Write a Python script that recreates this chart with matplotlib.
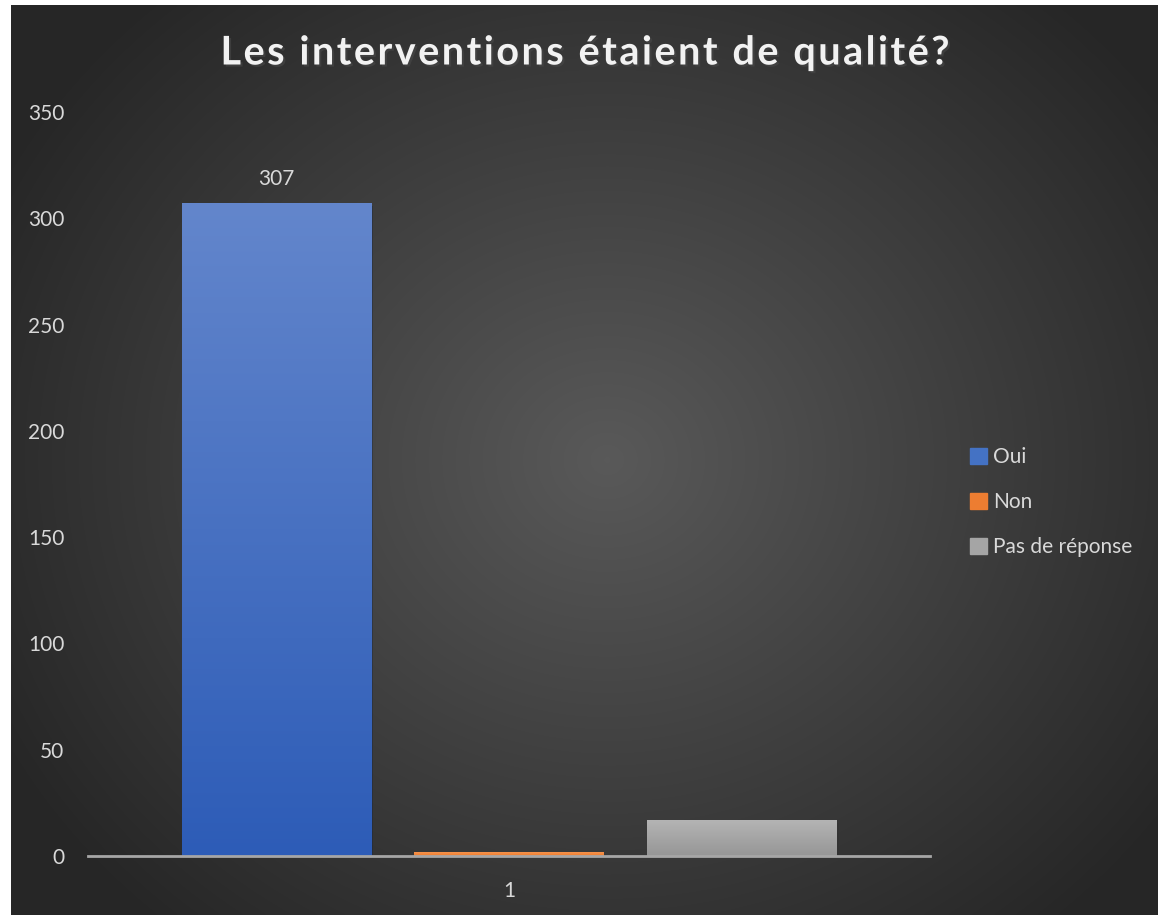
import numpy as np
import matplotlib.pyplot as plt
import matplotlib.patheffects as pe

plt.rcParams['font.family'] = ['Lato', 'DejaVu Sans']

# data
series = ["Oui", "Non", "Pas de réponse"]
values = [307, 2, 17]
category = ["1"]
top_colors = ["#6386cc", "#f79a55", "#b5b5b5"]
bottom_colors = ["#2d5cb7", "#f07b2c", "#969696"]
legend_colors = ["#4472c4", "#ed7d31", "#a5a5a5"]

fig = plt.figure(figsize=(11.58, 9.15), dpi=100)
fig.patch.set_facecolor("white")

# radial gradient background
bg = fig.add_axes([11/1158, 0, 1 - 11/1158, 1 - 5/915])
bg.set_axis_off()
yy, xx = np.mgrid[0:1:400j, 0:1:500j]
r = np.sqrt(((xx - 0.52) / 0.75) ** 2 + ((yy - 0.5) / 0.85) ** 2)
r = np.clip(r / 0.8, 0, 1)
g = 0.35 - (0.35 - 0.15) * r
img = np.dstack([g, g, g])
bg.imshow(img, aspect="auto", extent=[0, 1, 0, 1], interpolation="bicubic")

ax = fig.add_axes([88/1158, 1 - 856/915, 842/1158, (856 - 112)/915])
ax.patch.set_alpha(0)
ax.set_xlim(-0.5, 0.5)
ax.set_ylim(0, 350)

w = 0.2245
offs = [-0.2767, 0, 0.2767]
for i in range(3):
    b = ax.bar(offs[i], values[i], width=w, color=legend_colors[i], label=series[i], zorder=2,
               path_effects=[pe.SimplePatchShadow(offset=(2, -2), alpha=0.35), pe.Normal()])
    rect = b[0]
    c1 = np.array(plt.matplotlib.colors.to_rgb(top_colors[i]))
    c2 = np.array(plt.matplotlib.colors.to_rgb(bottom_colors[i]))
    t = np.linspace(0, 1, 256)[:, None]
    grad = c1 * (1 - t) + c2 * t
    gimg = np.repeat(grad[:, None, :], 2, axis=1)
    im = ax.imshow(gimg, extent=[offs[i] - w/2, offs[i] + w/2, 0, values[i]], aspect="auto", zorder=3)
    im.set_clip_path(rect)

ax.text(offs[0], values[0] + 7, str(values[0]), ha="center", va="bottom", color="#d9d9d9", fontsize=15)

for s in ["top", "right", "left"]:
    ax.spines[s].set_visible(False)
ax.spines["bottom"].set_color("#a6a6a6")
ax.spines["bottom"].set_linewidth(2)
ax.spines["bottom"].set_zorder(4)
ax.set_yticks(np.arange(0, 351, 50))
ax.set_xticks([0])
ax.set_xticklabels(category)
ax.tick_params(axis="y", length=0, pad=17, labelcolor="#d9d9d9", labelsize=15)
ax.tick_params(axis="x", length=0, pad=18, labelcolor="#d9d9d9", labelsize=15)

title = "Les interventions étaient de qualité?"
spaced = "\u2009\u2009\u2009".join("\u200a".join(word) for word in title.split(" "))
fig.text(0.506, 1 - 53/915, spaced,
         ha="center", va="center", color="#f2f2f2", fontsize=28.5, fontweight="bold",
         path_effects=[pe.withSimplePatchShadow(offset=(1.5, -1.5), alpha=0.6)])

leg = ax.legend(loc="center left", bbox_to_anchor=(962/842 - 88/842, 0.5 - (500 - 482)/744),
                frameon=False, fontsize=15, labelcolor="#d9d9d9", handlelength=0.8, handleheight=0.8,
                handletextpad=0.3, labelspacing=1.21, borderaxespad=0)
for h, c in zip(leg.legend_handles, legend_colors):
    h.set_path_effects([])
    h.set_color(c)

fig.savefig("out.png", dpi=100)
